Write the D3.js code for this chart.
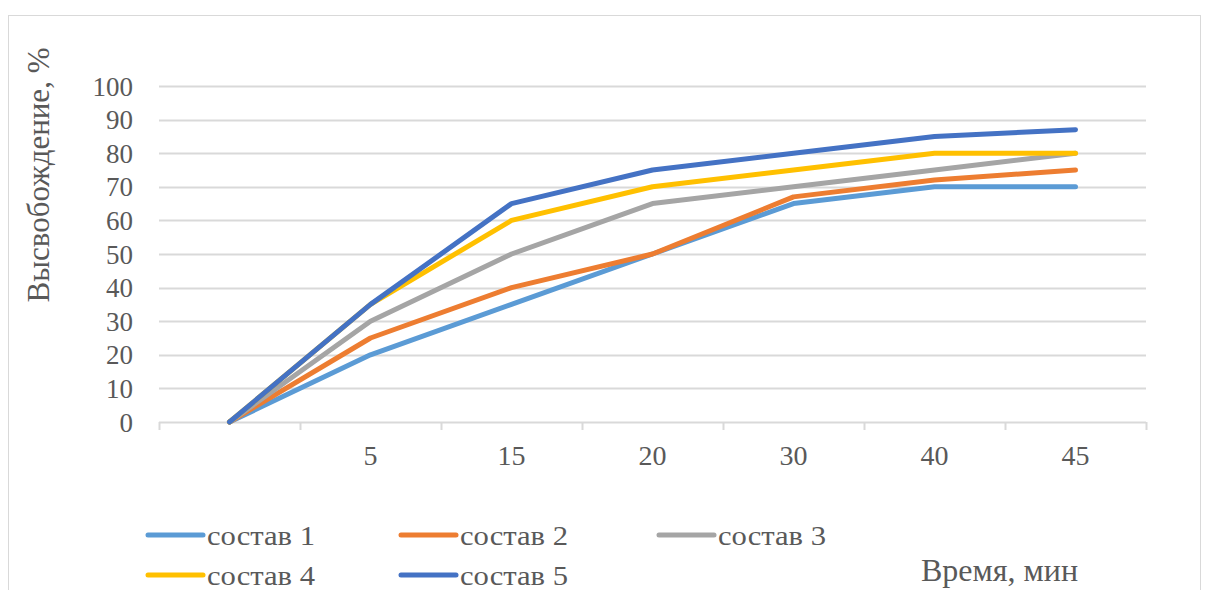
<!DOCTYPE html>
<html>
<head>
<meta charset="utf-8">
<script src="https://cdn.jsdelivr.net/npm/d3@7/dist/d3.min.js"></script>
<style>
  html, body { margin: 0; padding: 0; background: #fff; }
  svg { display: block; }
  text { font-family: "Liberation Serif", "Times New Roman", serif; fill: #595959; }
</style>
</head>
<body>
<svg id="chart" width="1209" height="590"></svg>
<script>
// Time points (first category has no label)
const categories = ["", "5", "15", "20", "30", "40", "45"];
const seriesNames = ["состав 1", "состав 2", "состав 3", "состав 4", "состав 5"];
const sostav1 = [0, 20, 35, 50, 65, 70, 70];
const sostav2 = [0, 25, 40, 50, 67, 72, 75];
const sostav3 = [0, 30, 50, 65, 70, 75, 80];
const sostav4 = [0, 35, 60, 70, 75, 80, 80];
const sostav5 = [0, 35, 65, 75, 80, 85, 87];
const yTicks = [0, 10, 20, 30, 40, 50, 60, 70, 80, 90, 100];
const colors = ["#5B9BD5", "#ED7D31", "#A5A5A5", "#FFC000", "#4472C4"];

const seriesValues = [sostav1, sostav2, sostav3, sostav4, sostav5];

const svg = d3.select("#chart");
const plot = { left: 159, right: 1146, top: 86, bottom: 422 };

// Chart frame
svg.append("rect")
  .attr("x", 8.5).attr("y", 15.5)
  .attr("width", 1192).attr("height", 590)
  .attr("fill", "#fff").attr("stroke", "#d9d9d9").attr("stroke-width", 1);

const x = d3.scaleBand().domain(categories.map((c, i) => i))
  .range([plot.left, plot.right]).paddingInner(0).paddingOuter(0);
const y = d3.scaleLinear().domain([0, 100]).range([plot.bottom, plot.top]);

// Horizontal gridlines
svg.append("g").selectAll("line")
  .data(yTicks.filter(t => t > 0))
  .join("line")
  .attr("x1", plot.left).attr("x2", plot.right)
  .attr("y1", d => Math.round(y(d)) + 0.5).attr("y2", d => Math.round(y(d)) + 0.5)
  .attr("stroke", "#d9d9d9").attr("stroke-width", 2);

// Y axis labels
const yAxis = d3.axisLeft(y).tickValues(yTicks).tickSize(0).tickPadding(0);
const gy = svg.append("g").attr("transform", `translate(${plot.left - 26},0)`).call(yAxis);
gy.select(".domain").remove();
gy.selectAll("text")
  .style("font-family", '"Liberation Serif", serif')
  .style("font-size", "27px").attr("fill", "#595959").attr("dy", "0.34em");

// X axis with category-boundary ticks
const xAxisLine = svg.append("g");
xAxisLine.append("line")
  .attr("x1", plot.left).attr("x2", plot.right)
  .attr("y1", plot.bottom + 0.5).attr("y2", plot.bottom + 0.5)
  .attr("stroke", "#d9d9d9").attr("stroke-width", 2);
const boundaries = categories.map((c, i) => x(i)).concat([plot.right]);
xAxisLine.selectAll("line.tick")
  .data(boundaries)
  .join("line").attr("class", "tick")
  .attr("x1", d => Math.round(d) + 0.5).attr("x2", d => Math.round(d) + 0.5)
  .attr("y1", plot.bottom).attr("y2", plot.bottom + 8)
  .attr("stroke", "#d9d9d9").attr("stroke-width", 2);

const xAxis = d3.axisBottom(x).tickFormat(i => categories[i]).tickSize(0).tickPadding(0);
const gx = svg.append("g").attr("transform", `translate(0,${plot.bottom + 43})`).call(xAxis);
gx.select(".domain").remove();
gx.selectAll("text")
  .style("font-family", '"Liberation Serif", serif')
  .style("font-size", "28px").attr("fill", "#595959").attr("dy", "0");

// Series lines
const line = d3.line()
  .x((d, i) => x(i) + x.bandwidth() / 2)
  .y(d => y(d));

svg.append("g").selectAll("path")
  .data(seriesValues)
  .join("path")
  .attr("d", d => line(d))
  .attr("fill", "none")
  .attr("stroke", (d, i) => colors[i])
  .attr("stroke-width", 5)
  .attr("stroke-linejoin", "round")
  .attr("stroke-linecap", "round");

// Y axis title
svg.append("text")
  .attr("transform", "translate(49,175) rotate(-90)")
  .attr("text-anchor", "middle")
  .style("font-size", "31px")
  .text("Высвобождение, %");

// X axis title
svg.append("text")
  .attr("x", 1078).attr("y", 581)
  .attr("text-anchor", "end")
  .style("font-size", "32px")
  .text("Время, мин");

// Legend
const legendPos = [[148, 535], [401, 535], [659, 535], [148, 575], [401, 575]];
const legend = svg.append("g").selectAll("g")
  .data(seriesNames)
  .join("g")
  .attr("transform", (d, i) => `translate(${legendPos[i][0]},${legendPos[i][1]})`);
legend.append("line")
  .attr("x1", 0).attr("x2", 55).attr("y1", 0).attr("y2", 0)
  .attr("stroke", (d, i) => colors[i]).attr("stroke-width", 5)
  .attr("stroke-linecap", "round");
legend.append("text")
  .attr("x", 59).attr("y", 10)
  .attr("textLength", 108).attr("lengthAdjust", "spacingAndGlyphs")
  .style("font-size", "28px")
  .text(d => d);
</script>
</body>
</html>
